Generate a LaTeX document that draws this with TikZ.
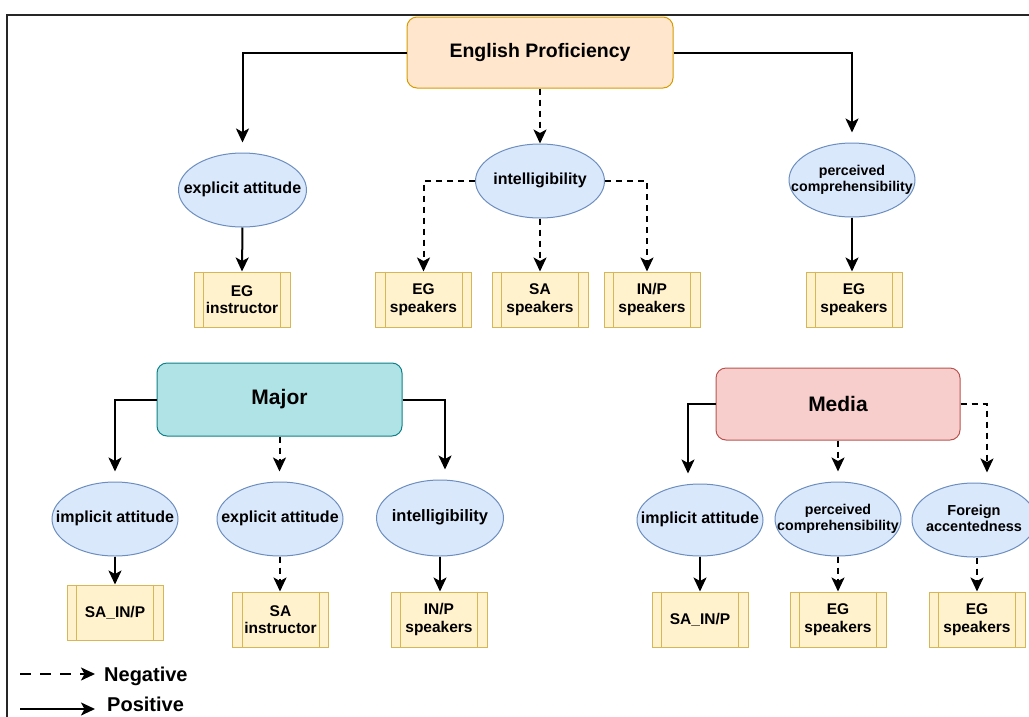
\documentclass[tikz,border=0pt]{standalone}
\usepackage{fontspec}
\setmainfont{Liberation Sans}
\usetikzlibrary{arrows.meta,shapes.geometric}

\definecolor{epFill}{HTML}{FFE6CC}\definecolor{epLine}{HTML}{D79B00}
\definecolor{mjFill}{HTML}{B0E3E6}\definecolor{mjLine}{HTML}{0E8088}
\definecolor{mdFill}{HTML}{F8CECC}\definecolor{mdLine}{HTML}{B85450}
\definecolor{elFill}{HTML}{DAE8FC}\definecolor{elLine}{HTML}{6C8EBF}
\definecolor{pbFill}{HTML}{FFF2CC}\definecolor{pbLine}{HTML}{D6B656}

% centred text that does not widen the ellipse around it
\newcommand{\inside}[1]{\makebox[0pt][c]{\begin{tabular}{@{}c@{}}#1\end{tabular}}}

\tikzset{
  factor/.style={draw, rounded corners=10pt, line width=1pt, inner sep=0pt,
    font=\bfseries\fontsize{21}{24}\selectfont},
  outcome/.style={ellipse, draw=elLine, fill=elFill, line width=1pt, inner sep=0pt,
    font=\bfseries\fontsize{16}{18}\selectfont,
    minimum width=126pt, minimum height=74pt},
  group/.style={draw=pbLine, fill=pbFill, line width=1pt, inner sep=0pt,
    align=center, font=\bfseries\fontsize{15.5}{17.5}\selectfont,
    minimum width=96pt, minimum height=55pt},
  poslink/.style={line width=2pt, -{Stealth[length=14pt,width=13pt,inset=3.5pt]}},
  neglink/.style={poslink, dash pattern=on 6pt off 5pt},
  gap/.style={shorten >=10pt},
}

\begin{document}
\begin{tikzpicture}[x=1pt,y=-1pt]
\useasboundingbox (0,0) rectangle (1029,716);
\clip (0,0) rectangle (1029,716);

% outer frame
\draw[line width=2pt, black!85] (7,720) -- (7,15) -- (1035,15);

% ---- English proficiency branch
\node[factor, draw=epLine, fill=epFill, minimum width=266pt, minimum height=71pt,
  font=\bfseries\fontsize{19.5}{22}\selectfont] (ep) at (540,52.5) {English Proficiency};
\node[outcome, minimum width=128pt] (ea1) at (242.5,190) {\inside{explicit attitude}};
\node[outcome, minimum width=129pt] (it1) at (540,181) {\inside{intelligibility}};
\node[outcome, font=\bfseries\fontsize{14.2}{16}\selectfont] (pc1) at (852,180) {\inside{perceived\\comprehensibility}};
\node[group] (g1) at (242,299.5) {EG\\instructor};
\node[group] (g2) at (423.5,299.5) {EG\\speakers};
\node[group] (g3) at (540,299.5) {SA\\speakers};
\node[group] (g4) at (652,299.5) {IN/P\\speakers};
\node[group] (g5) at (854,299.5) {EG\\speakers};

\draw[poslink, gap] (ep.west) -| (ea1.north);
\draw[neglink] (ep.south) -- (it1.north);
\draw[poslink, gap] (ep.east) -| (pc1.north);
\draw[poslink] (ea1.south) -- (g1.north);
\draw[neglink] (it1.west) -| (g2.north);
\draw[neglink] (it1.south) -- (g3.north);
\draw[neglink] (it1.east) -| ([xshift=-5pt]g4.north);
\draw[poslink] (pc1.south) -- (pc1.south |- g5.north);

% ---- Major branch
\node[factor, draw=mjLine, fill=mjFill, minimum width=245pt, minimum height=73pt] (mj) at (279.5,399.5) {Major};
\node[outcome] (ia2) at (115,519) {\inside{implicit attitude}};
\node[outcome] (ea2) at (280,519) {\inside{explicit attitude}};
\node[outcome, minimum width=127pt, minimum height=76pt,
  font=\bfseries\fontsize{16.5}{18}\selectfont] (it2) at (440,518) {\inside{intelligibility}};
\node[group] (g6) at (115,612.5) {SA\_IN/P};
\node[group] (g7) at (280.5,619.5) {SA\\instructor};
\node[group] (g8) at (439,619.5) {IN/P\\speakers};

\draw[poslink, gap] (mj.west) -| (ia2.north);
\draw[neglink, gap] (mj.south) -- (mj.south |- ea2.north);
\draw[poslink, gap] (mj.east) -| ([xshift=5pt]it2.north);
\draw[poslink] (ia2.south) -- (g6.north);
\draw[neglink] (ea2.south) -- (ea2.south |- g7.north);
\draw[poslink] (it2.south) -- (it2.south |- g8.north);

% ---- Media branch
\node[factor, draw=mdLine, fill=mdFill, minimum width=244pt, minimum height=72pt] (md) at (838,404) {Media};
\node[outcome, minimum height=72pt] (ia3) at (700,520) {\inside{implicit attitude}};
\node[outcome, font=\bfseries\fontsize{14.2}{16}\selectfont] (pc3) at (838,519) {\inside{perceived\\comprehensibility}};
\node[outcome, minimum width=124pt, font=\bfseries\fontsize{14.5}{16.5}\selectfont] (fa3) at (974,520) {\inside{Foreign\\accentedness}};
\node[group] (g9) at (700,619.5) {SA\_IN/P};
\node[group] (g10) at (838,619.5) {EG\\speakers};
\node[group] (g11) at (977,619.5) {EG\\speakers};

\draw[poslink, gap] (md.west) -| ([xshift=-12pt]ia3.north);
\draw[neglink, gap] (md.south) -- (pc3.north);
\draw[neglink, gap] (md.east) -| ([xshift=13pt]fa3.north);
\draw[poslink] (ia3.south) -- (g9.north);
\draw[neglink] (pc3.south) -- (g10.north);
\draw[neglink] (fa3.south -| g11.north) -- (g11.north);

% inner bars of the group boxes
\foreach \g in {g1,g2,g3,g4,g5,g6,g7,g8,g9,g10,g11}{
  \draw[pbLine, line width=1pt] ([xshift=10pt]\g.north west) -- ([xshift=10pt]\g.south west)
                               ([xshift=-10pt]\g.north east) -- ([xshift=-10pt]\g.south east);
}

% ---- legend
\coordinate (n0) at (20,674); \coordinate (n1) at (95,674);
\coordinate (p0) at (20,709); \coordinate (p1) at (95,709);
\draw[poslink, dash pattern=on 11pt off 9pt] (n0) -- (n1);
\draw[poslink] (p0) -- (p1);
\node[anchor=base west, inner sep=0pt, font=\bfseries\fontsize{20}{24}\selectfont] (negl) at (104,681) {Negative};
\node[anchor=base west, inner sep=0pt, font=\bfseries\fontsize{20}{24}\selectfont] (posl) at (107,711) {Positive};
\end{tikzpicture}
\end{document}
